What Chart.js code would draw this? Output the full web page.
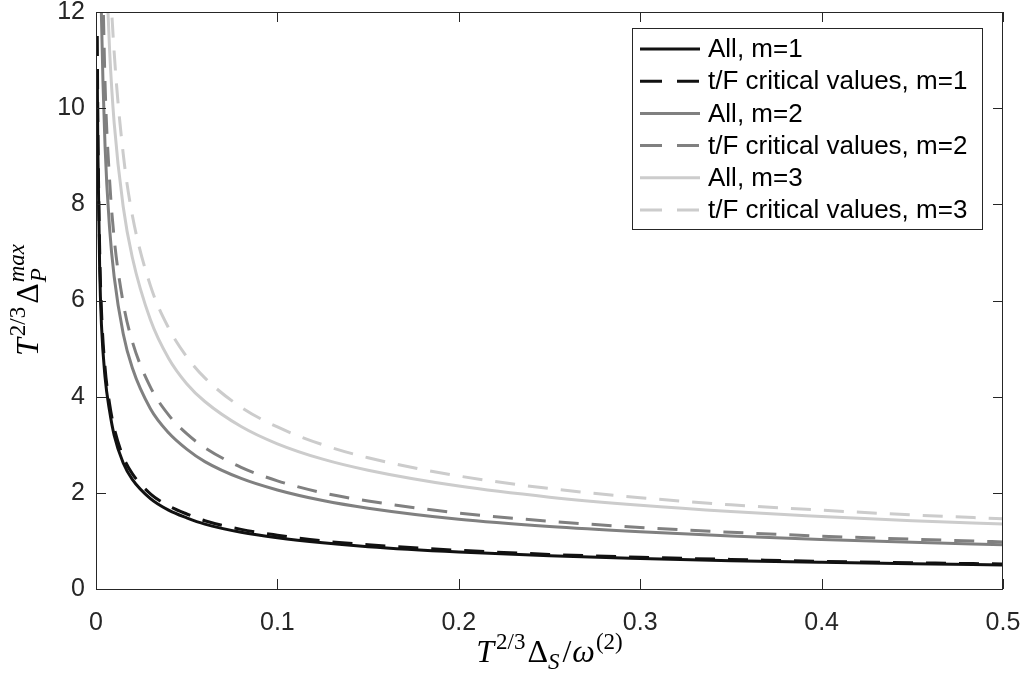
<!DOCTYPE html>
<html>
<head>
<meta charset="utf-8">
<script src="https://cdn.jsdelivr.net/npm/chart.js@4/dist/chart.umd.min.js"></script>
<style>
  html, body { margin: 0; padding: 0; background: #fff; }
  #wrap { width: 1022px; height: 675px; }
</style>
</head>
<body>
<div id="wrap"><canvas id="chart" width="1022" height="675"></canvas></div>
<script>
// ── Data ─────────────────────────────────────────────────────────────────────

const xs = [0.0007, 0.001, 0.002, 0.003, 0.005, 0.0075, 0.01, 0.015, 0.02, 0.03, 0.04, 0.05,
            0.06, 0.08, 0.1, 0.125, 0.15, 0.2, 0.25, 0.3, 0.35, 0.4, 0.45, 0.5];

const allM1  = [10.7, 9.2, 6.7, 5.5, 4.4, 3.7, 3.2, 2.62, 2.28, 1.88, 1.64, 1.48,
                1.35, 1.18, 1.065, 0.96, 0.88, 0.77, 0.69, 0.635, 0.59, 0.555, 0.525, 0.5];
const critM1 = [11.5, 9.8, 7.1, 5.8, 4.6, 3.85, 3.35, 2.75, 2.4, 1.98, 1.73, 1.56,
                1.42, 1.24, 1.12, 1.0, 0.92, 0.805, 0.72, 0.66, 0.615, 0.575, 0.545, 0.52];
const allM2  = [null, null, 14.5, 11.9, 9.2, 7.5, 6.5, 5.31, 4.6, 3.75, 3.25, 2.91,
                2.65, 2.3, 2.06, 1.84, 1.68, 1.45, 1.3, 1.19, 1.1, 1.03, 0.97, 0.92];
const critM2 = [null, null, null, 14.0, 10.5, 8.5, 7.3, 5.95, 5.15, 4.2, 3.62, 3.23,
                2.94, 2.53, 2.25, 2.0, 1.83, 1.58, 1.41, 1.28, 1.18, 1.1, 1.035, 0.98];
const allM3  = [null, null, null, null, 13.5, 11.2, 9.7, 7.95, 6.9, 5.6, 4.8, 4.27,
                3.9, 3.38, 3.02, 2.7, 2.47, 2.14, 1.91, 1.74, 1.61, 1.51, 1.42, 1.35];
const critM3 = [null, null, null, null, 16.0, 12.96, 11.17, 9.05, 7.78, 6.31, 5.43, 4.83,
                4.39, 3.78, 3.37, 3.0, 2.73, 2.35, 2.09, 1.9, 1.75, 1.64, 1.54, 1.46];

const seriesLabels = ['All, m=1', 't/F critical values, m=1', 'All, m=2',
                      't/F critical values, m=2', 'All, m=3', 't/F critical values, m=3'];
const xTicks = [0, 0.1, 0.2, 0.3, 0.4, 0.5];
const yTicks = [0, 2, 4, 6, 8, 10, 12];

// ── Styling ──────────────────────────────────────────────────────────────────

const AXIS = '#262626';
const BLACK = '#111111', GRAY = '#808080', LIGHT = '#cccccc';
const DASH = [20, 13];
const SERIF = '"Liberation Serif", "DejaVu Serif", serif';

function points(arr) {
    return xs.map((x, i) => ({ x, y: arr[i] })).filter(p => p.y !== null);
}

function makeSet(i, arr, color, dashed) {
    return {
        label: seriesLabels[i],
        data: points(arr),
        borderColor: color,
        backgroundColor: color,
        borderWidth: 3,
        borderDash: dashed ? DASH : [],
        pointRadius: 0,
        cubicInterpolationMode: 'monotone',
        order: 6 - i,
    };
}

// draw a run of text pieces (sub/superscripts) starting at x, baseline y
function drawParts(ctx, parts, x, y) {
    let cx = x;
    parts.forEach(p => {
        ctx.font = p.font;
        ctx.fillText(p.t, cx, y + (p.dy || 0));
        if (!p.stack) cx += ctx.measureText(p.t).width + (p.gap || 0);
    });
}
function partsWidth(ctx, parts) {
    let w = 0;
    parts.forEach(p => {
        ctx.font = p.font;
        if (!p.stack) w += ctx.measureText(p.t).width + (p.gap || 0);
    });
    return w;
}

const big = 'italic 32px ' + SERIF, bigUp = '32px ' + SERIF;
const small = 'italic 23px ' + SERIF, smallUp = '23px ' + SERIF;

const xTitle = [
    { t: 'T', font: big, gap: 2 },
    { t: '2/3', font: smallUp, dy: -13, gap: 2 },
    { t: 'Δ', font: bigUp },
    { t: 'S', font: small, dy: 7, gap: 3 },
    { t: '/', font: bigUp, gap: 1 },
    { t: 'ω', font: big, gap: 1 },
    { t: '(2)', font: smallUp, dy: -13 },
];
const yTitle = [
    { t: 'T', font: big, gap: 2 },
    { t: '2/3', font: smallUp, dy: -13, gap: 3 },
    { t: 'Δ', font: bigUp, gap: 1 },
    { t: 'P', font: small, dy: 8, stack: true },
    { t: 'max', font: small, dy: -14 },
];

// ── Plugin: MATLAB-like box, inward ticks, legend and math titles ────────────

const matlabFrame = {
    id: 'matlabFrame',
    afterDraw(chart) {
        const { ctx, chartArea: a, scales } = chart;
        const sx = scales.x, sy = scales.y;
        ctx.save();
        ctx.strokeStyle = AXIS;
        ctx.lineWidth = 1;
        ctx.strokeRect(a.left + 0.5, a.top + 0.5, a.right - a.left - 1, a.bottom - a.top);

        const tl = 10;
        ctx.beginPath();
        xTicks.forEach(v => {
            const px = Math.round(sx.getPixelForValue(v)) + 0.5;
            ctx.moveTo(px, a.bottom); ctx.lineTo(px, a.bottom - tl);
            ctx.moveTo(px, a.top);    ctx.lineTo(px, a.top + tl);
        });
        yTicks.forEach(v => {
            const py = Math.round(sy.getPixelForValue(v)) + 0.5;
            ctx.moveTo(a.left, py);  ctx.lineTo(a.left + tl, py);
            ctx.moveTo(a.right, py); ctx.lineTo(a.right - tl, py);
        });
        ctx.stroke();

        // legend
        const lx = 632, ly = 28, lw = 350, lh = 201, row = 32.2;
        ctx.fillStyle = '#fff';
        ctx.fillRect(lx, ly, lw, lh);
        ctx.strokeRect(lx + 0.5, ly + 0.5, lw, lh);
        ctx.font = '26px "Liberation Sans", Arial, sans-serif';
        ctx.textBaseline = 'middle';
        chart.data.datasets.forEach((ds, i) => {
            const cy = ly + 21 + i * row;
            ctx.save();
            ctx.strokeStyle = ds.borderColor;
            ctx.lineWidth = ds.borderWidth;
            ctx.setLineDash(ds.borderDash.length ? [22, 15] : []);
            ctx.beginPath();
            ctx.moveTo(640, cy); ctx.lineTo(700, cy);
            ctx.stroke();
            ctx.restore();
            ctx.fillStyle = '#000';
            ctx.fillText(ds.label, 708, cy + 1);
        });

        // axis titles
        ctx.fillStyle = '#000';
        ctx.textBaseline = 'alphabetic';
        const wx = partsWidth(ctx, xTitle);
        drawParts(ctx, xTitle, (a.left + a.right) / 2 - wx / 2, 662);

        const wy = partsWidth(ctx, yTitle);
        ctx.translate(38, 300);
        ctx.rotate(-Math.PI / 2);
        drawParts(ctx, yTitle, -wy / 2, 0);
        ctx.restore();
    }
};

// ── Chart ────────────────────────────────────────────────────────────────────

const tickFont = { family: '"Liberation Sans", Arial, sans-serif', size: 25 };

new Chart(document.getElementById('chart').getContext('2d'), {
    type: 'line',
    data: {
        datasets: [
            makeSet(0, allM1, BLACK, false),
            makeSet(1, critM1, BLACK, true),
            makeSet(2, allM2, GRAY, false),
            makeSet(3, critM2, GRAY, true),
            makeSet(4, allM3, LIGHT, false),
            makeSet(5, critM3, LIGHT, true),
        ]
    },
    options: {
        responsive: false,
        animation: false,
        devicePixelRatio: 1,
        layout: { padding: { top: 12, right: 19, left: 0, bottom: 0 } },
        plugins: { legend: { display: false }, tooltip: { enabled: false } },
        scales: {
            x: {
                type: 'linear', min: 0, max: 0.5,
                afterBuildTicks: s => { s.ticks = xTicks.map(v => ({ value: v })); },
                ticks: { font: tickFont, color: AXIS, padding: 19, maxRotation: 0 },
                grid: { display: false, drawTicks: false },
                border: { display: false },
                afterFit: s => { s.height = 86; s.paddingLeft = 0; s.paddingRight = 0; }
            },
            y: {
                type: 'linear', min: 0, max: 12,
                afterBuildTicks: s => { s.ticks = yTicks.map(v => ({ value: v })); },
                ticks: { font: tickFont, color: AXIS, padding: 11 },
                grid: { display: false, drawTicks: false },
                border: { display: false },
                afterFit: s => { s.width = 96; s.paddingTop = 0; s.paddingBottom = 0; }
            }
        }
    },
    plugins: [matlabFrame]
});
</script>
</body>
</html>
